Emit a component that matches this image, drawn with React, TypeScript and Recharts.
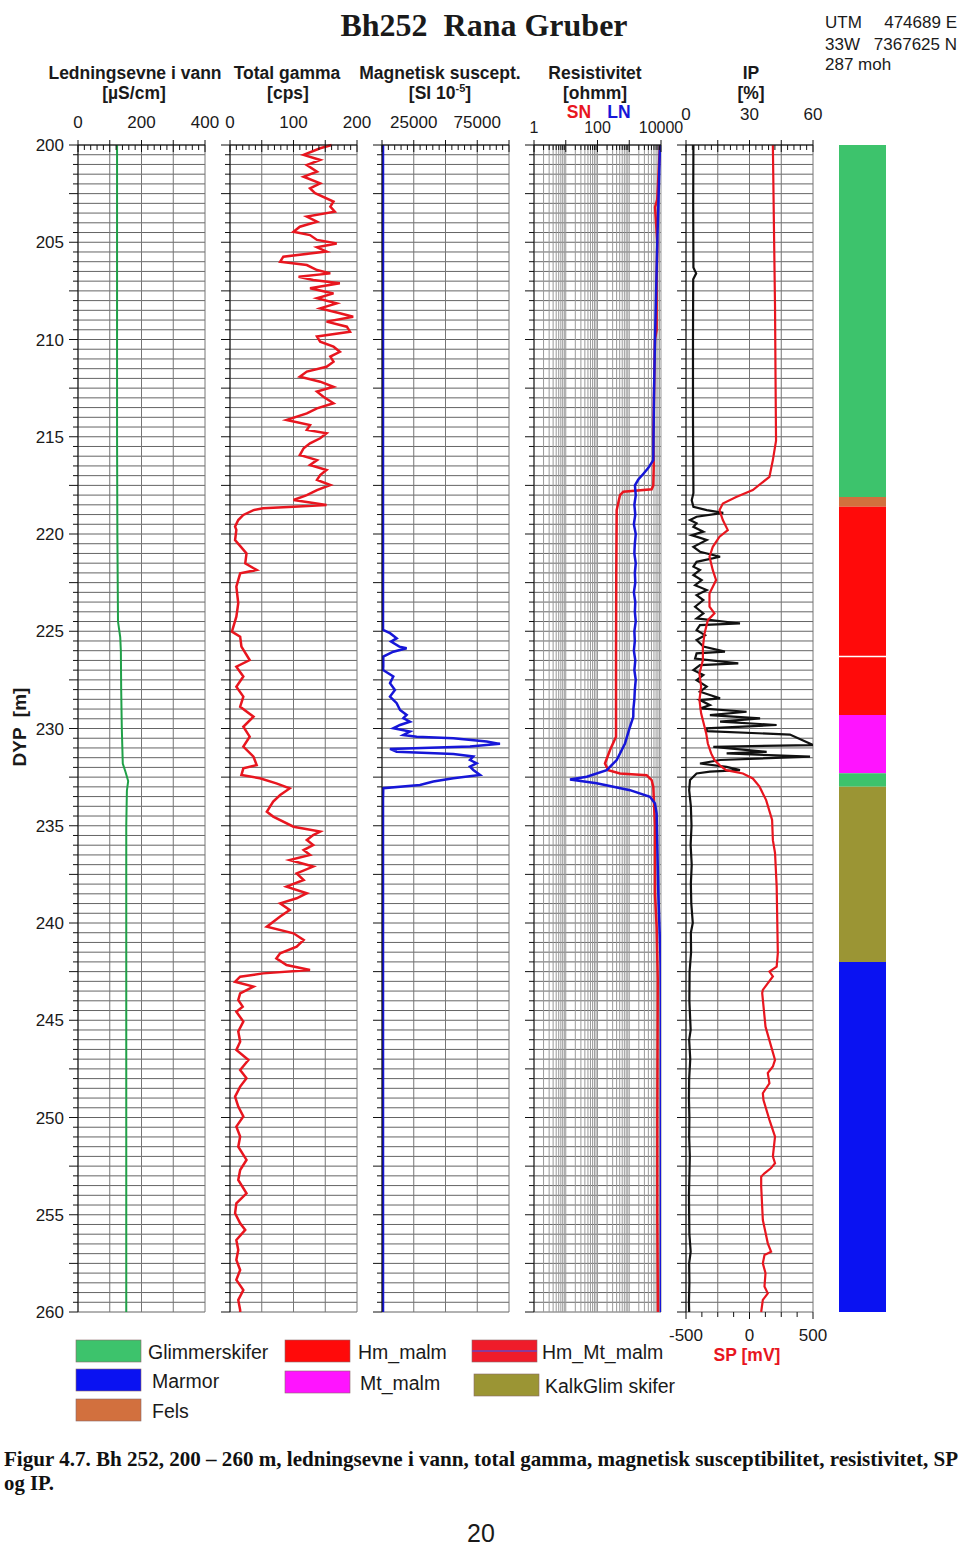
import React from 'react';
import { ComposedChart, Line, XAxis, YAxis, CartesianGrid, ReferenceLine, BarChart, Bar } from 'recharts';

type Pt = [number, number]; // [depth m, value]

// Ledningsevne i vann [µS/cm]
const conductivity: Pt[] = [
  [200, 123], [205, 123], [210, 123], [215, 123], [220, 124], [224.5, 126], [225.3, 133], [226, 135],
  [228, 136], [230, 138], [231.8, 141], [232.2, 149], [232.7, 158], [233.2, 154], [235, 152], [240, 152],
  [250, 152], [260, 152],
];

// Total gamma [cps]
const gamma: Pt[] = [
  [200, 160], [200.17, 142], [200.51, 116], [200.77, 142], [201.03, 121], [201.37, 137], [201.63, 116], [201.97, 142],
  [202.23, 126], [202.48, 134], [202.91, 163], [203.17, 158], [203.43, 165], [203.68, 121], [203.94, 137], [204.2, 110],
  [204.46, 100], [204.63, 126], [204.88, 137], [205.06, 168], [205.26, 137], [205.48, 152], [205.74, 84], [206, 79],
  [206.17, 121], [206.43, 137], [206.6, 158], [206.77, 108], [206.94, 131], [207.11, 173], [207.37, 126], [207.63, 163],
  [207.88, 137], [208.14, 168], [208.4, 142], [208.65, 173], [208.83, 194], [209.08, 152], [209.34, 184], [209.6, 189],
  [209.85, 137], [210.11, 142], [210.37, 163], [210.63, 173], [210.88, 158], [211.14, 163], [211.4, 152], [211.65, 121],
  [211.91, 110], [212.17, 142], [212.43, 163], [212.68, 137], [212.94, 147], [213.28, 163], [213.54, 137], [213.8, 121],
  [214.14, 89], [214.4, 126], [214.65, 121], [214.82, 152], [215.08, 142], [215.34, 126], [215.59, 116], [215.94, 110],
  [216.2, 137], [216.45, 126], [216.71, 152], [216.97, 142], [217.22, 137], [217.48, 158], [217.74, 137], [218, 121],
  [218.25, 100], [218.51, 152], [218.6, 100], [218.68, 52], [218.77, 37], [219.02, 21], [219.28, 13], [219.62, 8],
  [219.79, 10], [220.31, 8], [221, 26], [221.51, 24], [221.85, 42], [222.02, 16], [222.71, 10], [223.56, 13],
  [224.25, 10], [225.02, 3], [225.28, 16], [225.79, 18], [226.48, 31], [226.82, 10], [227.33, 21], [227.85, 10],
  [228.36, 21], [228.88, 16], [229.39, 37], [229.91, 21], [230.42, 31], [230.93, 21], [231.45, 37], [231.88, 42],
  [232.05, 21], [232.39, 18], [232.56, 47], [232.82, 73], [233.08, 94], [233.42, 79], [233.76, 68], [234.02, 63],
  [234.28, 58], [234.53, 68], [235.05, 100], [235.3, 142], [235.48, 131], [235.73, 121], [235.99, 131], [236.25, 116],
  [236.5, 126], [236.76, 94], [237.1, 131], [237.45, 105], [237.79, 116], [238.13, 89], [238.47, 121], [238.73, 105],
  [238.99, 79], [239.33, 94], [239.67, 79], [240.19, 58], [240.53, 100], [240.87, 116], [241.22, 105], [241.56, 79],
  [241.82, 73], [242.16, 89], [242.42, 126], [242.59, 52], [242.76, 16], [243.02, 8], [243.27, 37], [243.62, 16],
  [243.96, 13], [244.3, 20], [244.56, 10], [245.07, 21], [245.58, 13], [246.1, 16], [246.53, 10], [247.04, 29],
  [247.56, 16], [247.98, 26], [248.41, 16], [248.93, 8], [249.44, 13], [249.95, 21], [250.47, 10], [250.98, 16],
  [251.5, 13], [252.18, 26], [252.7, 16], [253.21, 13], [253.9, 26], [254.41, 10], [254.92, 8], [255.44, 16],
  [255.78, 24], [256.3, 10], [256.81, 13], [257.32, 10], [257.84, 16], [258.35, 10], [258.87, 21], [259.38, 13],
  [259.9, 16], [260, 16],
];

// Magnetisk susceptibilitet [SI 10^-5]
const magSus: Pt[] = [
  [200, 800], [224.93, 800], [225.1, 6300], [225.36, 11550], [225.53, 7100], [225.79, 13650], [225.87, 19400],
  [226.05, 8900], [226.3, 1000], [226.82, 1000], [226.99, 800], [227.33, 8900], [227.67, 6300], [228.02, 10200],
  [228.36, 6300], [228.7, 11550], [229.05, 14200], [229.3, 19400], [229.47, 16800], [229.65, 22000], [229.82, 14200],
  [229.99, 8900], [230.16, 22000], [230.33, 16800], [230.42, 27300], [230.5, 56200], [230.67, 82400], [230.79, 92900],
  [230.93, 69300], [231.05, 6300], [231.19, 11550], [231.31, 56200], [231.44, 71900], [231.62, 69300], [231.79, 74500],
  [231.96, 69300], [232.13, 71900], [232.39, 77200], [232.56, 56200], [232.73, 40400], [232.9, 29900], [233.07, 1000],
  [233.67, 800], [260, 800],
];

// Resistivitet [ohmm], long normal (LN) and short normal (SN)
const resLN: Pt[] = [
  [200, 9300], [205, 7650], [210, 6460], [213, 6000], [216.2, 5720], [216.6, 4000], [216.9, 2800], [217.2, 1930],
  [217.5, 1510], [218, 1600], [218.5, 1450], [219, 1550], [219.5, 1400], [220, 1600], [220.5, 1500], [221, 1450],
  [221.5, 1600], [222, 1500], [222.5, 1550], [223, 1400], [223.5, 1550], [224, 1500], [224.5, 1600], [225, 1450],
  [225.5, 1500], [226, 1400], [226.5, 1550], [227, 1450], [227.5, 1600], [228, 1500], [228.5, 1450], [229, 1350],
  [229.4, 1340], [229.91, 1056], [230.77, 735], [231.62, 402], [232.14, 195], [232.48, 46], [232.62, 13.6],
  [232.82, 94], [233.17, 1056], [233.51, 4500], [233.85, 6460], [234.37, 7290], [238.5, 8230], [241, 9300],
  [242.2, 9800], [244, 10000], [260, 10000],
];
const resSN: Pt[] = [
  [200, 9300], [202.8, 7600], [203.2, 6500], [203.7, 6800], [205, 7650], [207, 7300], [209.5, 7290], [210, 6460],
  [213, 6000], [215, 5720], [216.5, 5900], [217.5, 5720], [217.7, 5080], [217.83, 650], [218, 512], [218.77, 402],
  [222, 390], [226, 383], [230.42, 383], [231.11, 248], [231.8, 172], [232.14, 219], [232.31, 512], [232.4, 3530],
  [232.65, 5080], [233, 5720], [235, 6460], [238.5, 6460], [240.2, 7290], [242.9, 7900], [250, 7650], [255, 7650],
  [260, 8000],
];

// IP [%]
const ip: Pt[] = [
  [200, 3.5], [203, 3.4], [206.3, 3.5], [206.6, 4.8], [206.9, 3.4], [210, 3.3], [214, 3.3], [217.9, 3.5],
  [218.26, 2.7], [218.6, 3.5], [218.77, 9.8], [218.91, 17.6], [219.11, 5], [219.28, 1.9], [219.45, 5], [219.63, 3.5],
  [219.88, 8.2], [220.06, 2.7], [220.31, 9.8], [220.66, 3.5], [220.91, 6.6], [221.17, 16.1], [221.43, 5], [221.68, 3.5],
  [221.85, 6.6], [222.11, 3.5], [222.37, 7.4], [222.63, 4.3], [222.88, 9.8], [223.14, 5], [223.4, 8.2], [223.74, 4.3],
  [224.08, 8.2], [224.34, 5], [224.6, 25.5], [224.68, 6.6], [224.94, 5], [225.2, 9], [225.45, 5], [225.79, 8.2],
  [226.05, 18.4], [226.14, 5], [226.4, 4.3], [226.65, 24.7], [226.74, 6.6], [227, 3.5], [227.25, 8.2], [227.51, 5],
  [227.85, 9.8], [228.11, 6.6], [228.28, 11.3], [228.45, 16.1], [228.54, 6.6], [228.8, 11.3], [228.97, 6.6],
  [229.14, 28.6], [229.31, 11.3], [229.48, 35], [229.65, 16.1], [229.82, 42.8], [229.99, 9.8], [230.14, 9.8],
  [230.31, 49.1], [230.85, 60], [230.94, 12.9], [231.2, 38.1], [231.28, 19.2], [231.45, 58.6], [231.62, 16.1],
  [231.8, 6.6], [231.97, 19.2], [232.14, 25.5], [232.22, 11.3], [232.31, 5], [232.65, 1.9], [233.17, 1.5],
  [234, 2.3], [235, 2.6], [236, 2.2], [237, 2.7], [238, 2.3], [239, 2.5], [240, 3.2], [240.5, 2.3], [241.5, 2.4],
  [242.5, 1.7], [244, 1.6], [245.5, 2.2], [246, 1.5], [247, 2], [248, 1.5], [249, 1.4], [250, 1.6], [251, 1.5],
  [252, 1.8], [253, 1.6], [254, 1.4], [255, 1.5], [256, 1.6], [256.9, 2.2], [257.5, 1.5], [258.5, 1.6], [259.5, 1.4],
  [260, 1.5],
];

// SP [mV]
const sp: Pt[] = [
  [200, 184], [204, 192], [208.3, 201], [212, 205], [215.2, 209], [216.2, 184], [217.06, 157], [217.74, 26],
  [218.1, -105], [218.43, -210], [218.77, -236], [219.28, -210], [219.8, -171], [220.14, -236], [220.66, -289],
  [221.17, -315], [221.86, -289], [222.37, -263], [223.06, -315], [223.74, -315], [224.08, -276], [224.43, -328],
  [225.11, -354], [225.8, -367], [226.48, -367], [227.17, -394], [227.85, -381], [228.54, -394], [229.22, -381],
  [229.91, -354], [230.25, -341], [230.77, -328], [231.28, -302], [231.62, -276], [231.88, -236], [232.14, -184],
  [232.31, -52], [232.57, 26], [232.99, 79], [233.68, 131], [234.7, 178], [235.74, 184], [236.4, 201], [238.13, 214],
  [241.55, 223], [242.24, 214], [242.5, 157], [242.75, 184], [243.44, 105], [243.6, 100], [245.33, 126], [247.04, 201],
  [247.38, 184], [247.72, 144], [248.24, 157], [248.75, 105], [249.1, 110], [250.12, 157], [250.98, 201], [252, 184],
  [252.35, 201], [252.6, 170], [252.87, 118], [253.04, 92], [253.55, 92], [255.27, 105], [256.47, 144], [256.9, 170],
  [257.07, 118], [257.5, 105], [258, 126], [258.69, 118], [259.04, 144], [259.38, 105], [260, 92],
];

// lithology column
const lithTop = [200, 218.1, 218.6, 226.3, 229.3, 232.3, 233.0, 242.0];
const lithBase = [218.1, 218.6, 226.3, 229.3, 232.3, 233.0, 242.0, 260];
const lithType = ['Glimmerskifer', 'Fels', 'Hm_malm', 'Hm_malm', 'Mt_malm', 'Glimmerskifer', 'KalkGlim skifer', 'Marmor'];

// axis ticks / labels
const depthLabels = [200, 205, 210, 215, 220, 225, 230, 235, 240, 245, 250, 255, 260];
const condGrid = [0, 100, 200, 300, 400];
const condLabels = [0, 200, 400];
const gammaGrid = [0, 50, 100, 150, 200];
const gammaLabels = [0, 100, 200];
const magGrid = [0, 25000, 50000, 75000, 100000];
const magLabels = [25000, 75000];
const resDecades = [1, 10, 100, 1000, 10000];
const resLabels = [1, 100, 10000];
const ipGrid = [0, 15, 30, 45, 60];
const ipLabels = [0, 30, 60];
const spGrid = [-500, 0, 500];
const spLabels = [-500, 0, 500];

const COLORS: Record<string, string> = {
  Glimmerskifer: '#3dc36c',
  Marmor: '#0a12f2',
  Fels: '#d2703e',
  Hm_malm: '#ff0a0a',
  Mt_malm: '#ff14ff',
  Hm_Mt_malm: '#ef1c2a',
  'KalkGlim skifer': '#9b9534',
};

const SANS = '"Liberation Sans", Arial, sans-serif';
const SERIF = '"Liberation Serif", "Times New Roman", serif';
const RED = '#e8161f';
const BLUE = '#1616d8';

const range = (a: number, b: number, s: number) =>
  Array.from({ length: Math.round((b - a) / s) + 1 }, (_, i) => +(a + i * s).toFixed(6));
const depthTicks = range(200, 260, 0.5);
const logTicks = [...resDecades.slice(0, 4).flatMap((d) => range(1, 9, 1).map((m) => m * d)), 10000];

const rows = (pts: Pt[]) => pts.map(([d, v]) => ({ d, v }));

const TOP = 100;
const AXIS_H = 45;
const PLOT_H = 1167;
const BOTTOM_H = 35;
const CHART_H = AXIS_H + PLOT_H + BOTTOM_H;
const W = 127;
const PAD = 26;

const DepthTick = (p: any) => {
  const v = p.payload.value;
  const long = Math.abs(v / 2.5 - Math.round(v / 2.5)) < 1e-6;
  return (
    <g>
      <line x1={p.x - (long ? 9 : 5)} x2={p.x} y1={p.y} y2={p.y} stroke="#111" />
      {p.show && depthLabels.includes(v) && (
        <text x={p.x - 14} y={p.y} dy="0.36em" textAnchor="end" fontSize={17} fontFamily={SANS} fill="#1a1a1a">
          {v}
        </text>
      )}
    </g>
  );
};

const TopTick = (p: any) => {
  const v = p.payload.value;
  const major = p.grid.includes(v);
  return (
    <g>
      <line x1={p.x} x2={p.x} y1={major ? p.y - 5 : p.y} y2={p.y + (major ? 7 : 5)} stroke="#111" />
      {p.labels.includes(v) && (
        <text x={p.x} y={p.y + p.dy} textAnchor="middle" fontSize={p.fs ?? 17} fontFamily={SANS} fill="#1a1a1a">
          {v}
        </text>
      )}
    </g>
  );
};

const BottomTick = (p: any) => {
  const v = p.payload.value;
  const major = spGrid.includes(v);
  return (
    <g>
      <line x1={p.x} x2={p.x} y1={p.y} y2={p.y + (major ? 7 : 5)} stroke="#111" />
      {spLabels.includes(v) && (
        <text x={p.x} y={p.y + 29} textAnchor="middle" fontSize={17} fontFamily={SANS} fill="#1a1a1a">
          {v}
        </text>
      )}
    </g>
  );
};

type Series = { pts: Pt[]; color: string; axis?: string | number; width?: number };

function Track(props: {
  x0: number;
  domain: [number, number];
  log?: boolean;
  ticks: number[];
  grid: number[];
  labels: number[];
  dy: number;
  fs?: number;
  series: Series[];
  showDepth?: boolean;
  withSp?: boolean;
}) {
  const { x0, domain, log, ticks, grid, labels, dy, fs, series, showDepth, withSp } = props;
  const yw = showDepth ? 78 : PAD;
  return (
    <div style={{ position: 'absolute', left: x0 - yw, top: TOP }}>
      <ComposedChart
        layout="vertical"
        width={yw + W + PAD}
        height={CHART_H}
        margin={{ top: 0, right: PAD, left: 0, bottom: withSp ? 0 : BOTTOM_H }}
      >
        <CartesianGrid vertical={false} stroke="#656565" />
        {log && <CartesianGrid horizontal={false} stroke="#999999" />}
        <XAxis
          type="number"
          orientation="top"
          domain={domain}
          scale={log ? 'log' : 'linear'}
          ticks={ticks}
          interval={0}
          allowDataOverflow
          height={AXIS_H}
          tickSize={0}
          tickMargin={0}
          tickLine={false}
          axisLine={{ stroke: '#111' }}
          tick={(p: any) => <TopTick {...p} grid={grid} labels={labels} dy={dy} fs={fs} />}
        />
        {withSp && (
          <XAxis
            xAxisId="sp"
            type="number"
            orientation="bottom"
            domain={[-500, 500]}
            ticks={range(-500, 500, 125)}
            interval={0}
            height={BOTTOM_H}
            tickSize={0}
            tickMargin={0}
            tickLine={false}
            axisLine={false}
            tick={(p: any) => <BottomTick {...p} />}
          />
        )}
        <YAxis
          type="number"
          dataKey="d"
          domain={[200, 260]}
          ticks={depthTicks}
          interval={0}
          width={yw}
          tickSize={0}
          tickMargin={0}
          tickLine={false}
          axisLine={{ stroke: '#111' }}
          tick={(p: any) => <DepthTick {...p} show={showDepth} />}
        />
        {!log && grid.map((g) => <ReferenceLine key={g} x={g} stroke="#767676" />)}
        {series.map((s, i) => (
          <Line
            key={i}
            data={rows(s.pts)}
            dataKey="v"
            xAxisId={s.axis ?? 0}
            type="linear"
            stroke={s.color}
            strokeWidth={s.width ?? 2.5}
            dot={false}
            activeDot={false}
            isAnimationActive={false}
          />
        ))}
      </ComposedChart>
    </div>
  );
}

function Lithology() {
  const row: Record<string, number | string> = { name: 'Bh252' };
  lithTop.forEach((t, i) => {
    row[`s${i}`] = +(lithBase[i] - t).toFixed(3);
  });
  return (
    <div style={{ position: 'absolute', left: 839, top: 145 }}>
      <BarChart width={47} height={PLOT_H} data={[row]} margin={{ top: 0, right: 0, bottom: 0, left: 0 }} barCategoryGap={0}>
        <XAxis dataKey="name" hide />
        <YAxis type="number" domain={[0, 60]} reversed hide />
        {lithTop.map((_, i) => (
          <Bar key={i} dataKey={`s${i}`} stackId="lith" fill={COLORS[lithType[i]]} isAnimationActive={false} />
        ))}
        <ReferenceLine y={lithTop[3] - 200} stroke="#fff" strokeWidth={1.5} />
      </BarChart>
    </div>
  );
}

const legendItems = [
  { name: 'Glimmerskifer', x: 76, y: 1340, tx: 148 },
  { name: 'Marmor', x: 76, y: 1369, tx: 152 },
  { name: 'Fels', x: 76, y: 1399, tx: 152 },
  { name: 'Hm_malm', x: 285, y: 1340, tx: 358 },
  { name: 'Mt_malm', x: 285, y: 1371, tx: 360 },
  { name: 'Hm_Mt_malm', x: 472, y: 1340, tx: 542 },
  { name: 'KalkGlim skifer', x: 474, y: 1374, tx: 545 },
];

function Texts() {
  const hdr = { fontFamily: SANS, fontWeight: 700, fontSize: 17.5, fill: '#1a1a1a', textAnchor: 'middle' as const };
  return (
    <svg width={960} height={1546} style={{ position: 'absolute', left: 0, top: 0 }}>
      <text x={484} y={36} textAnchor="middle" fontFamily={SERIF} fontWeight={700} fontSize={32} fill="#1a1a1a" style={{ whiteSpace: 'pre' }}>
        {'Bh252  Rana Gruber'}
      </text>
      <g fontFamily={SANS} fontSize={17} fill="#1a1a1a">
        <text x={825} y={28}>UTM</text>
        <text x={957} y={28} textAnchor="end">474689 E</text>
        <text x={825} y={50}>33W</text>
        <text x={957} y={50} textAnchor="end">7367625 N</text>
        <text x={825} y={70}>287 moh</text>
      </g>
      <text x={135} y={79} {...hdr}>Ledningsevne i vann</text>
      <text x={134} y={99} {...hdr}>[µS/cm]</text>
      <text x={287} y={79} {...hdr}>Total gamma</text>
      <text x={288} y={99} {...hdr}>[cps]</text>
      <text x={440} y={79} {...hdr}>Magnetisk suscept.</text>
      <text x={440} y={99} {...hdr}>
        [SI 10<tspan fontSize={11} dy={-7}>-5</tspan>
        <tspan dy={7}>]</tspan>
      </text>
      <text x={595} y={79} {...hdr}>Resistivitet</text>
      <text x={595} y={99} {...hdr}>[ohmm]</text>
      <text x={579} y={118} {...hdr} fill={RED}>SN</text>
      <text x={619} y={118} {...hdr} fill={BLUE}>LN</text>
      <text x={751} y={79} {...hdr}>IP</text>
      <text x={751} y={99} {...hdr}>[%]</text>
      <text x={747} y={1361} {...hdr} fill={RED}>SP [mV]</text>
      <text
        x={26}
        y={727}
        transform="rotate(-90 26 727)"
        textAnchor="middle"
        fontFamily={SANS}
        fontWeight={700}
        fontSize={19}
        fill="#1a1a1a"
        style={{ whiteSpace: 'pre' }}
      >
        {'DYP  [m]'}
      </text>
      {legendItems.map((it) => (
        <g key={it.name}>
          <rect x={it.x} y={it.y} width={65} height={22} fill={COLORS[it.name]} stroke="#8a6a6a" strokeWidth={0.6} />
          {it.name === 'Hm_Mt_malm' && <line x1={it.x} x2={it.x + 65} y1={it.y + 11} y2={it.y + 11} stroke="#8a3a9a" strokeWidth={2} />}
          <text x={it.tx} y={it.y + 19} fontFamily={SANS} fontSize={19.5} fill="#1a1a1a">
            {it.name}
          </text>
        </g>
      ))}
      <text x={4} y={1466} fontFamily={SERIF} fontWeight={700} fontSize={21} fill="#111" textLength={954} lengthAdjust="spacingAndGlyphs">
        Figur 4.7. Bh 252, 200 – 260 m, ledningsevne i vann, total gamma, magnetisk susceptibilitet, resistivitet, SP
      </text>
      <text x={4} y={1490} fontFamily={SERIF} fontWeight={700} fontSize={21} fill="#111" textLength={50} lengthAdjust="spacingAndGlyphs">
        og IP.
      </text>
      <text x={481} y={1542} textAnchor="middle" fontFamily={SANS} fontSize={25} fill="#1a1a1a">
        20
      </text>
    </svg>
  );
}

export default function App() {
  return (
    <div style={{ position: 'absolute', left: 0, top: 0, width: 960, height: 1546, background: '#fff' }}>
      <Texts />
      <Track
        x0={78}
        domain={[0, 400]}
        ticks={range(0, 400, 20)}
        grid={condGrid}
        labels={condLabels}
        dy={-17}
        showDepth
        series={[{ pts: conductivity, color: '#20a048', width: 2 }]}
      />
      <Track
        x0={230}
        domain={[0, 200]}
        ticks={range(0, 200, 10)}
        grid={gammaGrid}
        labels={gammaLabels}
        dy={-17}
        series={[{ pts: gamma, color: RED }]}
      />
      <Track
        x0={382}
        domain={[0, 100000]}
        ticks={range(0, 100000, 5000)}
        grid={magGrid}
        labels={magLabels}
        dy={-17}
        series={[{ pts: magSus, color: BLUE }]}
      />
      <Track
        x0={534}
        domain={[1, 10000]}
        log
        ticks={logTicks}
        grid={resDecades}
        labels={resLabels}
        dy={-12}
        fs={16}
        series={[
          { pts: resSN, color: RED },
          { pts: resLN, color: BLUE },
        ]}
      />
      <Track
        x0={686}
        domain={[0, 60]}
        ticks={range(0, 60, 3)}
        grid={ipGrid}
        labels={ipLabels}
        dy={-25}
        withSp
        series={[
          { pts: ip, color: '#111', width: 2.2 },
          { pts: sp, color: RED, axis: 'sp', width: 2.2 },
        ]}
      />
      <Lithology />
    </div>
  );
}
